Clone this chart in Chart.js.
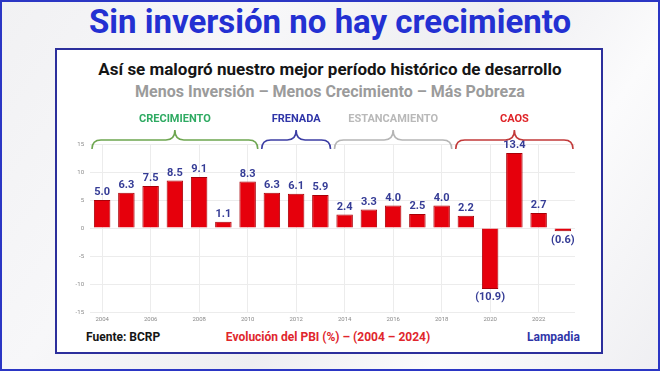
<!DOCTYPE html>
<html>
<head>
<meta charset="utf-8">
<script src="https://cdn.jsdelivr.net/npm/chart.js@4"></script>
<style>
  body { margin: 0; }
  #page {
    position: relative; width: 660px; height: 371px; box-sizing: border-box;
    border: 2px solid #2b36c4;
    background: linear-gradient(125deg, #f1f1f3 0%, #f7f7f9 30%, #eeeef1 55%, #fbfbfc 75%, #efeff2 100%);
    font-family: Roboto, "Open Sans", sans-serif; overflow: hidden;
  }
  .txt { position: absolute; white-space: nowrap; font-weight: 700; }
  #title { left: 0; width: 656px; top: 3px; line-height: 33px; text-align: center; font-size: 33px; color: #2330d2; }
  #box {
    position: absolute; left: 53px; top: 46px; width: 548px; height: 306px;
    box-sizing: border-box; border: 2.5px solid #2c2f9c; background: #fff;
  }
  #sub1 { left: 0; width: 656px; top: 59px; line-height: 17px; text-align: center; font-size: 17px; color: #151515; }
  #sub2 { left: 0; width: 656px; top: 82px; line-height: 16px; text-align: center; font-size: 16px; color: #9b9b9b; }
  #src { left: 84px; top: 329px; line-height: 12px; font-size: 12px; color: #151515; }
  #cap { left: 0; width: 652px; top: 329px; line-height: 12px; text-align: center; font-size: 12px; color: #e0262c; }
  #brand { left: 525px; top: 329px; line-height: 12px; font-size: 12px; color: #2f35a8; }
  #chartWrap { position: absolute; left: 54px; top: 98px; }
</style>
</head>
<body>
<div id="page">
  <div class="txt" id="title">Sin inversión no hay crecimiento</div>
  <div id="box"></div>
  <div class="txt" id="sub1">Así se malogró nuestro mejor período histórico de desarrollo</div>
  <div class="txt" id="sub2">Menos Inversión – Menos Crecimiento – Más Pobreza</div>
  <div id="chartWrap"><canvas id="pbiChart" width="544" height="228"></canvas></div>
  <div class="txt" id="src">Fuente: BCRP</div>
  <div class="txt" id="cap">Evolución del PBI (%) – (2004 – 2024)</div>
  <div class="txt" id="brand">Lampadia</div>
</div>
<script>
// PBI growth by year (%)
const years = ['2004', '2005', '2006', '2007', '2008', '2009', '2010', '2011', '2012', '2013',
    '2014', '2015', '2016', '2017', '2018', '2019', '2020', '2021', '2022', '2023'];
const growth = [5.0, 6.3, 7.5, 8.5, 9.1, 1.1, 8.3, 6.3, 6.1, 5.9,
    2.4, 3.3, 4.0, 2.5, 4.0, 2.2, -10.9, 13.4, 2.7, -0.6];

// periods shown with braces above the bars
const periodNames = ['CRECIMIENTO', 'FRENADA', 'ESTANCAMIENTO', 'CAOS'];
const periodFirst = ['2004', '2011', '2014', '2019'];
const periodLast = ['2010', '2013', '2018', '2023'];
const periodTextColors = ['#2eaa62', '#2f35a8', '#b9b9b9', '#df2428'];
const periodBraceColors = ['#6ea650', '#3c3ea4', '#b5b5b5', '#c23a3a'];

const yTicks = [-15, -10, -5, 0, 5, 10, 15];

// value labels over / under each bar
const valueLabels = {
    id: 'valueLabels',
    afterDatasetsDraw(chart) {
        const ctx = chart.ctx;
        const meta = chart.getDatasetMeta(0);
        ctx.save();
        ctx.font = 'bold 11px Roboto';
        ctx.fillStyle = '#353c96';
        ctx.textAlign = 'center';
        meta.data.forEach((bar, i) => {
            const v = growth[i];
            if (v >= 0) {
                ctx.textBaseline = 'bottom';
                ctx.fillText(v.toFixed(1), bar.x, bar.y - 2);
            } else {
                ctx.textBaseline = 'top';
                ctx.fillText('(' + Math.abs(v).toFixed(1) + ')', bar.x, Math.max(bar.y, bar.base) + 3);
            }
        });
        ctx.restore();
    }
};

// curly braces + period names
const periodBraces = {
    id: 'periodBraces',
    afterDraw(chart) {
        const ctx = chart.ctx;
        const x = chart.scales.x;
        const top = chart.chartArea.top;
        const half = (x.getPixelForValue(1) - x.getPixelForValue(0)) / 2;
        const endY = top + 5, lineY = top - 4, peakY = top - 14;
        const r = 9;
        ctx.save();
        for (let i = 0; i < periodNames.length; i++) {
            const x0 = x.getPixelForValue(years.indexOf(periodFirst[i])) - half + 2;
            const x1 = x.getPixelForValue(years.indexOf(periodLast[i])) + half - 2;
            const mid = (x0 + x1) / 2;
            ctx.beginPath();
            ctx.moveTo(x0, endY);
            ctx.quadraticCurveTo(x0, lineY, x0 + r, lineY);
            ctx.lineTo(mid - r, lineY);
            ctx.quadraticCurveTo(mid, lineY, mid, peakY);
            ctx.quadraticCurveTo(mid, lineY, mid + r, lineY);
            ctx.lineTo(x1 - r, lineY);
            ctx.quadraticCurveTo(x1, lineY, x1, endY);
            ctx.strokeStyle = periodBraceColors[i];
            ctx.lineWidth = 1.6;
            ctx.stroke();

            ctx.font = 'bold 11px Roboto';
            ctx.fillStyle = periodTextColors[i];
            ctx.textAlign = 'center';
            ctx.textBaseline = 'middle';
            ctx.fillText(periodNames[i], mid, top - 25);
        }
        ctx.restore();
    }
};

new Chart(document.querySelector('#pbiChart'), {
    type: 'bar',
    data: {
        labels: years,
        datasets: [{
            label: 'PBI (%)',
            data: growth,
            backgroundColor: '#e6000c',
            borderColor: '#a80008',
            borderWidth: 1,
            barPercentage: 0.68,
            categoryPercentage: 1
        }]
    },
    options: {
        responsive: false,
        animation: false,
        layout: { padding: { left: 0, right: 25, top: 44, bottom: 0 } },
        plugins: {
            legend: { display: false },
            tooltip: { enabled: false }
        },
        scales: {
            x: {
                grid: { offset: false, color: '#ececec', drawTicks: false },
                border: { display: false },
                ticks: {
                    autoSkip: false, maxRotation: 0, padding: 4,
                    color: '#8a8a8a', font: { size: 6, family: 'Roboto' },
                    callback: (v, i) => i % 2 === 0 ? years[i] : null
                },
                afterFit: s => { s.height = 16; }
            },
            y: {
                min: yTicks[0],
                max: yTicks[yTicks.length - 1],
                grid: { color: '#ececec', drawTicks: false },
                border: { display: false },
                ticks: {
                    stepSize: 5, padding: 6,
                    color: '#8a8a8a', font: { size: 6, family: 'Roboto' }
                },
                afterFit: s => { s.width = 34; }
            }
        }
    },
    plugins: [valueLabels, periodBraces]
});
</script>
</body>
</html>
